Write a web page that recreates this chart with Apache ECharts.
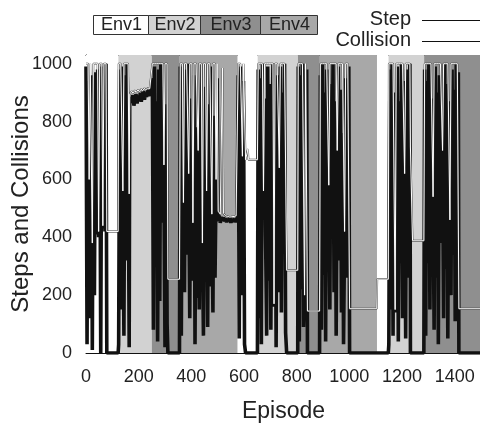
<!DOCTYPE html>
<html>
<head>
<meta charset="utf-8">
<script src="https://cdn.jsdelivr.net/npm/echarts@6/dist/echarts.min.js"></script>
<style>
  html, body { margin: 0; padding: 0; background: #fff; }
  #chart { width: 480px; height: 423px; }
</style>
</head>
<body>
<div id="chart"></div>
<script>
// environment bands (episode edges) and which env each band is
const bandEdges = [0, 123, 250, 356, 576, 652, 805, 888, 1105, 1149, 1284, 1500];
const bandEnv = [1, 2, 3, 4, 1, 2, 3, 4, 1, 2, 3];
const envNames = ["Env1", "Env2", "Env3", "Env4"];
const envColors = ["#ffffff", "#d2d2d2", "#8f8f8f", "#a8a8a8"];
const xTicks = [0, 200, 400, 600, 800, 1000, 1200, 1400];
const yTicks = [0, 200, 400, 600, 800, 1000];

// steps per episode [episode, steps]
const stepPts = [
  [0,1000],[4,1000],[8,1000],[12,600],[16,1000],[20,1000],[24,380],[28,1000],[32,1000],[36,1000],
  [40,1000],[44,1000],[48,420],[52,1000],[56,1000],[60,1000],[64,440],[68,1000],[72,1000],[76,1000],
  [79,420],[122,420],
  [124,1000],[128,1000],[132,1000],[136,1000],[140,560],[144,1000],[148,1000],[152,1000],[156,1000],[160,1000],[164,550],
  [166,895],[170,900],[174,905],[178,898],[182,902],[186,908],[190,900],[194,905],[198,910],[202,903],[206,908],
  [210,912],[214,905],[218,910],[222,915],[226,908],[230,912],[234,916],[238,910],[242,914],[246,918],
  [252,1000],[256,1000],[260,1000],[264,1000],[268,1000],[272,1000],[276,1000],[280,1000],[284,1000],[288,1000],
  [292,1000],[296,650],[300,1000],[304,1000],[308,1000],
  [311,255],[355,255],
  [358,1000],[362,1000],[366,1000],[370,520],[374,1000],[378,1000],[382,1000],[386,1000],[390,620],[394,1000],
  [398,1000],[402,1000],[406,450],[410,1000],[414,1000],[418,1000],[422,1000],[426,700],[430,1000],[434,1000],
  [438,1000],[442,380],[446,1000],[450,1000],[454,1000],[458,560],[462,1000],[466,1000],[470,1000],[474,1000],
  [478,480],[482,1000],[486,1000],[490,1000],[494,600],[498,1000],
  [502,490],[506,485],[510,480],[514,478],[518,985],[522,482],[526,476],[530,474],[534,478],[538,472],
  [542,475],[546,470],[550,474],[554,471],[558,476],[562,472],[566,470],[570,474],[574,471],
  [578,1000],[582,1000],[586,1000],[590,1000],[594,680],[598,1000],[602,1000],
  [606,668],[613,668],[615,705],[617,668],[651,668],
  [654,1000],[658,1000],[662,1000],[666,1000],[670,1000],[674,560],[678,1000],[682,1000],[686,1000],[690,1000],
  [694,1000],[698,1000],[702,1000],[706,1000],[710,1000],[714,170],[718,1000],[722,1000],[726,1000],[730,1000],
  [734,640],[738,1000],[742,1000],[746,1000],[750,1000],[754,1000],[758,1000],
  [762,286],[804,286],
  [806,1000],[810,1000],[814,1000],[818,1000],[822,1000],[826,1000],[830,200],[834,1000],[838,1000],
  [841,145],[887,145],
  [890,1000],[894,1000],[898,1000],[902,1000],[906,1000],[910,1000],[914,1000],[918,1000],[922,580],[926,1000],
  [930,1000],[934,1000],[938,1000],[942,1000],[946,1000],[950,1000],[954,700],[958,1000],[962,1000],[966,1000],
  [970,1000],[974,1000],[978,1000],[982,420],[986,1000],[990,1000],[994,1000],[998,1000],
  [1001,153],[1104,153],
  [1106,255],[1148,255],
  [1150,1000],[1154,1000],[1158,1000],[1162,1000],[1166,1000],[1170,1000],[1174,150],[1178,1000],[1182,1000],[1186,1000],
  [1190,1000],[1194,1000],[1198,1000],[1202,1000],[1206,1000],[1210,620],[1214,1000],[1218,1000],[1222,1000],[1226,1000],
  [1230,1000],
  [1232,712],[1238,712],[1240,388],[1283,388],
  [1286,1000],[1290,1000],[1294,1000],[1298,1000],[1302,1000],[1306,1000],[1310,1000],[1314,1000],[1318,540],[1322,1000],
  [1326,1000],[1330,1000],[1334,1000],[1338,1000],[1342,1000],[1346,1000],[1350,1000],[1354,700],[1358,1000],[1362,1000],
  [1366,1000],[1370,1000],[1374,1000],[1378,1000],[1382,460],[1386,1000],[1390,1000],[1394,1000],[1398,1000],[1402,1000],
  [1406,1000],[1410,1000],[1414,1000],
  [1416,153],[1500,153]
];

// collisions per episode [episode, collisions]
const collPts = [
  [0,990],[4,30],[8,940],[12,580],[16,120],[20,960],[24,10],[28,900],[32,200],[36,970],
  [40,410],[44,980],[48,400],[52,950],[56,0],[60,990],[64,430],[68,880],[72,420],[76,1000],
  [79,0],[122,0],
  [124,30],[128,980],[132,150],[136,990],[140,540],[144,60],[148,960],[152,320],[156,1000],[160,700],[164,20],
  [166,860],[170,885],[174,865],[178,892],[182,855],[186,880],[190,895],[194,862],[198,890],[202,870],[206,900],
  [210,868],[214,895],[218,905],[222,875],[226,900],[230,885],[234,910],[238,888],[242,905],[246,895],
  [252,950],[256,80],[260,990],[264,300],[268,870],[272,40],[276,980],[280,180],[284,1000],[288,450],
  [292,920],[296,620],[300,20],[304,860],[308,100],
  [311,0],[355,0],
  [358,990],[362,60],[366,930],[370,500],[374,210],[378,980],[382,340],[386,1000],[390,600],[394,120],
  [398,880],[402,250],[406,440],[410,960],[414,30],[418,780],[422,190],[426,690],[430,150],[434,1000],
  [438,280],[442,370],[446,60],[450,920],[454,350],[458,540],[462,90],[466,860],[470,230],[474,990],
  [478,470],[482,140],[486,820],[490,260],[494,580],[498,950],
  [502,455],[506,475],[510,450],[514,470],[518,460],[522,468],[526,455],[530,466],[534,452],[538,464],
  [542,456],[546,468],[550,450],[554,462],[558,468],[562,455],[566,464],[570,452],[574,462],
  [578,960],[582,50],[586,990],[590,200],[594,650],[598,940],[602,30],
  [606,0],[651,0],
  [654,980],[658,120],[662,950],[666,30],[670,1000],[674,540],[678,880],[682,400],[686,60],[690,990],
  [694,250],[698,930],[702,80],[706,760],[710,1000],[714,160],[718,870],[722,20],[726,960],[730,210],
  [734,620],[738,990],[742,140],[746,900],[750,380],[754,1000],[758,70],
  [762,0],[804,0],
  [806,990],[810,40],[814,960],[818,220],[822,1000],[826,90],[830,190],[834,300],[838,980],
  [841,0],[887,0],
  [890,960],[894,80],[898,1000],[902,270],[906,900],[910,40],[914,980],[918,350],[922,570],[926,150],
  [930,930],[934,440],[938,1000],[942,210],[946,870],[950,60],[954,690],[958,990],[962,320],[966,910],
  [970,140],[974,760],[978,30],[982,410],[986,950],[990,260],[994,880],[998,990],
  [1001,0],[1148,0],
  [1150,30],[1154,980],[1158,150],[1162,1000],[1166,60],[1170,900],[1174,140],[1178,220],[1182,990],[1186,40],
  [1190,870],[1194,310],[1198,1000],[1202,120],[1206,940],[1210,600],[1214,50],[1218,980],[1222,260],[1226,900],
  [1230,1000],
  [1232,0],[1283,0],
  [1286,980],[1290,60],[1294,940],[1298,310],[1302,1000],[1306,150],[1310,880],[1314,420],[1318,530],[1322,80],
  [1326,990],[1330,260],[1334,900],[1338,30],[1342,960],[1346,380],[1350,850],[1354,680],[1358,120],[1362,1000],
  [1366,290],[1370,930],[1374,50],[1378,870],[1382,450],[1386,200],[1390,980],[1394,340],[1398,910],[1402,110],
  [1406,1000],[1410,250],[1414,970],
  [1416,0],[1500,0]
];

const font = '"Liberation Sans", Arial, sans-serif';
const chart = echarts.init(document.getElementById("chart"), null, { renderer: "canvas" });

const bands = bandEnv.map((env, i) => [
  { xAxis: bandEdges[i], itemStyle: { color: envColors[env - 1] } },
  { xAxis: bandEdges[i + 1] }
]);

// env legend boxes
const boxEdges = [93, 148, 200, 260, 317];
const envLegend = [];
envNames.forEach((name, i) => {
  envLegend.push({
    type: "rect",
    shape: { x: boxEdges[i] + 0.5, y: 15.5, width: boxEdges[i + 1] - boxEdges[i], height: 19 },
    style: { fill: envColors[i], stroke: "#333", lineWidth: 1 }
  });
  envLegend.push({
    type: "text",
    style: {
      text: name, x: (boxEdges[i] + boxEdges[i + 1]) / 2 + 1, y: 25.5,
      align: "center", verticalAlign: "middle", textAlign: "center", textVerticalAlign: "middle",
      font: "18px " + font, fill: "#222"
    }
  });
});

const seriesLegend = [
  { type: "text", style: { text: "Step", x: 411, y: 19.5, align: "right", verticalAlign: "middle",
      textAlign: "right", textVerticalAlign: "middle", font: "20px " + font, fill: "#222" } },
  { type: "line", shape: { x1: 422, y1: 20.5, x2: 481, y2: 20.5 }, style: { stroke: "#111", lineWidth: 1 } },
  { type: "text", style: { text: "Collision", x: 411, y: 40, align: "right", verticalAlign: "middle",
      textAlign: "right", textVerticalAlign: "middle", font: "20px " + font, fill: "#222" } },
  { type: "line", shape: { x1: 422, y1: 41.5, x2: 481, y2: 41.5 }, style: { stroke: "#111", lineWidth: 1 } }
];

const axisLine = { show: true, onZero: false, lineStyle: { color: "#111", width: 1 } };
const tickStyle = { show: true, inside: true, length: 5, lineStyle: { color: "#111" } };
const xTick = Object.assign({ customValues: xTicks }, tickStyle);
const yTick = Object.assign({ customValues: yTicks }, tickStyle);
const labelStyle = { fontSize: 18, color: "#222", fontFamily: font, formatter: (v) => String(v) };

chart.setOption({
  animation: false,
  backgroundColor: "#fff",
  grid: { left: 86, top: 55, width: 395, height: 298, containLabel: false, outerBoundsMode: "none" },
  xAxis: [
    {
      type: "value", min: 0, max: 1500, interval: 200, position: "bottom",
      axisLine, axisTick: xTick, splitLine: { show: false },
      axisLabel: Object.assign({ margin: 15, customValues: xTicks }, labelStyle),
      name: "Episode", nameLocation: "middle", nameGap: 47, nameMoveOverlap: false,
      nameTextStyle: { fontSize: 23, color: "#222", fontFamily: font }
    },
    {
      type: "value", min: 0, max: 1500, interval: 200, position: "top",
      axisLine, axisTick: xTick, splitLine: { show: false }, axisLabel: { show: false }
    }
  ],
  yAxis: [
    {
      type: "value", min: 0, max: 1030, interval: 200, position: "left",
      axisLine, axisTick: yTick, splitLine: { show: false },
      axisLabel: Object.assign({ margin: 14, customValues: yTicks }, labelStyle),
      name: "Steps and Collisions", nameLocation: "middle", nameGap: 53, nameMoveOverlap: false,
      nameTextStyle: { fontSize: 24, color: "#222", fontFamily: font }
    },
    {
      type: "value", min: 0, max: 1030, interval: 200, position: "right",
      axisLine, axisTick: yTick, splitLine: { show: false }, axisLabel: { show: false }
    }
  ],
  graphic: envLegend.concat(seriesLegend),
  series: [
    {
      name: "bands", type: "line", data: [], z: 1, silent: true,
      markArea: { silent: true, label: { show: false }, data: bands }
    },
    {
      name: "Collision", type: "line", data: collPts, z: 2,
      symbol: "none", lineStyle: { color: "#111", width: 3.6, join: "bevel" }
    },
    {
      name: "StepEdge", type: "line", data: stepPts, z: 3,
      symbol: "none", lineStyle: { color: "#333", width: 1.8 }
    },
    {
      name: "Step", type: "line", data: stepPts, z: 4,
      symbol: "none", lineStyle: { color: "#ffffff", width: 1 }
    }
  ]
});
</script>
</body>
</html>
